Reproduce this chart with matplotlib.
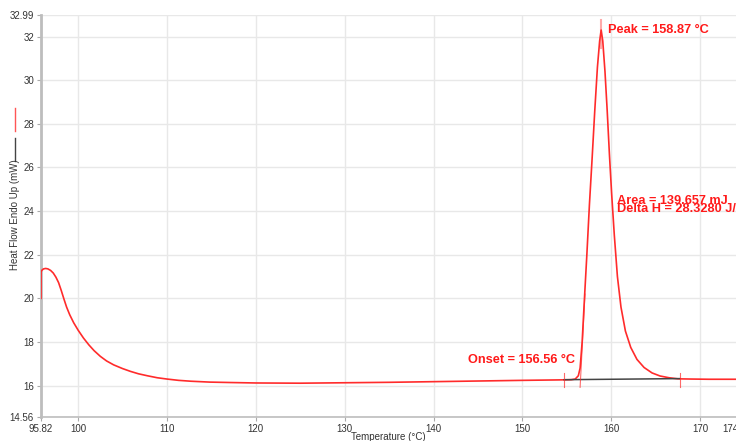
import matplotlib
matplotlib.use("Agg")
import matplotlib.pyplot as plt

# ---- data ----
temperature = [95.82, 95.83, 95.95, 96.1, 96.35, 96.6, 96.9, 97.2, 97.5, 97.8, 98.1, 98.4, 98.7,
               99.05, 99.5, 100.0, 100.6, 101.2, 101.8, 102.5, 103.2, 104.0, 105.0, 105.9, 106.8,
               107.8, 108.9, 110.0, 111.3, 112.7, 114.8, 117.2, 120.0, 125.0, 130.0, 135.0, 140.0,
               145.0, 150.0, 154.0, 155.5, 155.95, 156.3, 156.5, 156.73, 156.99, 157.26, 157.55,
               157.85, 158.15, 158.45, 158.7, 158.87, 159.05, 159.3, 159.55, 159.8, 160.05, 160.35,
               160.7, 161.1, 161.6, 162.2, 162.9, 163.7, 164.6, 165.5, 166.5, 167.5, 169.0, 171.0,
               174.2]
heat_flow = [20.0, 21.23, 21.3, 21.35, 21.37, 21.35, 21.28, 21.16, 20.97, 20.72, 20.36, 19.97, 19.6,
             19.25, 18.88, 18.54, 18.18, 17.87, 17.6, 17.34, 17.13, 16.95, 16.78, 16.65, 16.54,
             16.45, 16.36, 16.3, 16.24, 16.2, 16.16, 16.14, 16.12, 16.11, 16.13, 16.15, 16.18,
             16.21, 16.24, 16.26, 16.27, 16.3, 16.45, 16.8, 18.0, 20.0, 22.0, 24.3,
             26.4, 28.6, 30.6, 31.8, 32.3, 31.8, 30.4, 28.6, 26.6, 24.8, 22.9,
             21.0, 19.6, 18.5, 17.75, 17.2, 16.83, 16.58, 16.44, 16.36, 16.31, 16.3, 16.29,
             16.29]

baseline_t = [154.7, 167.7]
baseline_y = [16.27, 16.32]

onset_t = 156.56
peak_t = 158.87
peak_y = 32.3
area_text = "Area = 139.657 mJ"
dh_text = "Delta H = 28.3280 J/g"

x_min, x_max = 95.82, 174.16
y_min, y_max = 14.56, 32.99
x_ticks = [95.82, 100, 110, 120, 130, 140, 150, 160, 170, 174.16]
x_tick_labels = ["95.82", "100", "110", "120", "130", "140", "150", "160", "170", "174.16"]
y_ticks = [14.56, 16, 18, 20, 22, 24, 26, 28, 30, 32, 32.99]
y_tick_labels = ["14.56", "16", "18", "20", "22", "24", "26", "28", "30", "32", "32.99"]

plt.rcParams['font.family'] = ['Liberation Sans', 'DejaVu Sans']

fig = plt.figure(figsize=(7.36, 4.41), dpi=100)
W, H = 736, 441
ax = fig.add_axes([41 / W, 24 / H, (737 - 41) / W, (417 - 15) / H])

red = '#ff2b2b'
ax.plot(temperature, heat_flow, color=red, lw=1.2, zorder=3, solid_joinstyle='round')
ax.plot(baseline_t, baseline_y, color='#444444', lw=1.1, zorder=4)
# markers on baseline ends
for t in baseline_t:
    ax.plot([t, t], [15.92, 16.6], color=red, lw=0.8, alpha=0.7, zorder=4)
# onset tangent
ax.plot([156.5, 157.05], [15.92, 20.2], color=red, lw=0.8, alpha=0.7, zorder=4)
# peak marker
ax.plot([peak_t, peak_t], [31.5, 32.75], color='#ffaaaa', lw=1.5, zorder=2)

txtkw = dict(color='#ff1a1a', fontsize=9.2, fontweight='bold', clip_on=False)
ax.text(159.6, peak_y, f"Peak = {peak_t:.2f} °C", ha='left', va='center', **txtkw)
ax.text(160.65, 24.48, area_text, ha='left', va='center', **txtkw)
ax.text(160.65, 24.1, dh_text, ha='left', va='center', **txtkw)
ax.text(155.9, 17.17, f"Onset = {onset_t:.2f} °C", ha='right', va='center', **txtkw)

ax.set_xlim(x_min, x_max)
ax.set_ylim(y_min, y_max)
ax.set_xticks(x_ticks)
ax.set_xticklabels(x_tick_labels)
ax.set_yticks(y_ticks)
ax.set_yticklabels(y_tick_labels)
ax.tick_params(axis='both', labelsize=7, colors='#333333', length=3, width=0.8, pad=2)
ax.tick_params(axis='both', color='#aaaaaa')
ax.grid(True, color='#e8e8e8', lw=1.0)
ax.set_axisbelow(True)
for s in ['top', 'right']:
    ax.spines[s].set_visible(False)
ax.spines['left'].set_color('#bdbdbd')
ax.spines['left'].set_linewidth(2.0)
ax.spines['bottom'].set_color('#bdbdbd')
ax.spines['bottom'].set_linewidth(1.2)

# y label with legend line glyphs
fig.add_artist(plt.Line2D([15 / W, 15 / W], [1 - 108 / H, 1 - 131 / H], color='#ff5555', lw=1.0))
fig.add_artist(plt.Line2D([15 / W, 15 / W], [1 - 138 / H, 1 - 161 / H], color='#444444', lw=1.0))
fig.text(15 / W, 1 - 215 / H, "Heat Flow Endo Up (mW)", rotation=90, ha='center', va='center',
         fontsize=7, color='#333333')
fig.text(388 / W, 1 - 437 / H, "Temperature (°C)", ha='center', va='center', fontsize=7, color='#333333')

fig.savefig("out.png", dpi=100)
